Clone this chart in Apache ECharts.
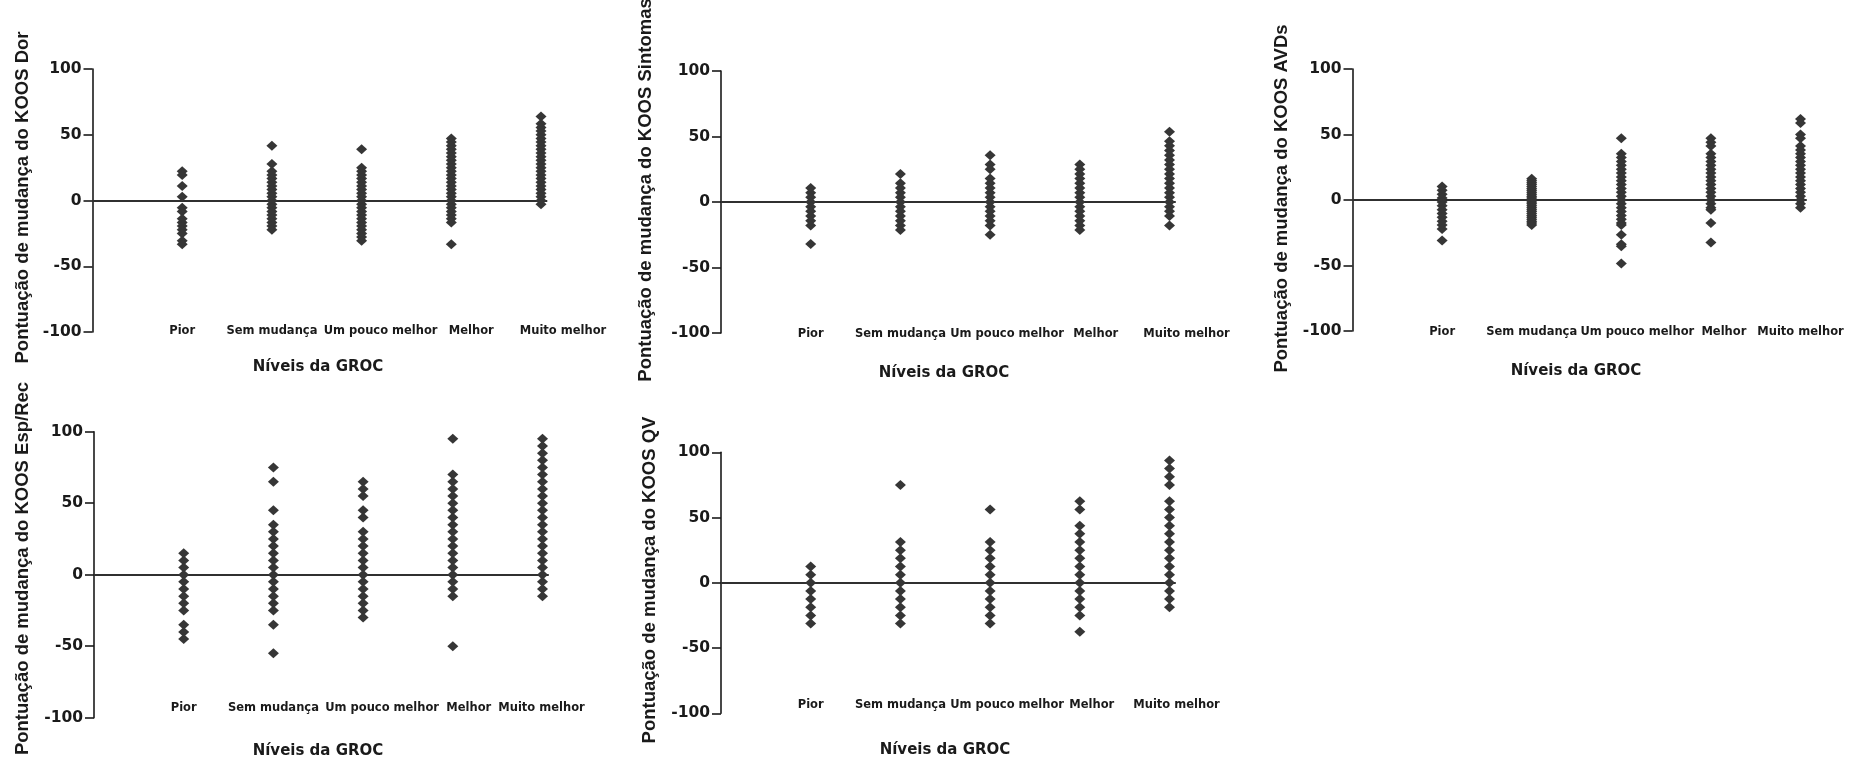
<!DOCTYPE html>
<html><head><meta charset="utf-8">
<script src="https://cdn.jsdelivr.net/npm/echarts@6/dist/echarts.min.js"></script>
<style>html,body{margin:0;padding:0;background:#fff}#c{width:1857px;height:762px}</style>
</head><body><div id="c"></div>
<script>
// ---------- categories & labels ----------
const categories = ['Pior', 'Sem mudança', 'Um pouco melhor', 'Melhor', 'Muito melhor'];
const xTitle = 'Níveis da GROC';
const yTitles = [
  'Pontuação de mudança do KOOS Dor',
  'Pontuação de mudança do KOOS Sintomas',
  'Pontuação de mudança do KOOS AVDs',
  'Pontuação de mudança do KOOS Esp/Rec',
  'Pontuação de mudança do KOOS QV'
];
const yMin = -100, yMax = 100, yStep = 50;

// ---------- KOOS Dor ----------
const dorPior = [22.2, 19.4, 11.1, 2.8, -5.6, -8.3, -13.9, -16.7, -19.4, -22.2, -25.0, -30.6, -33.3];
const dorSem = [41.7, 27.8, 22.2, 19.4, 16.7, 13.9, 11.1, 8.3, 5.6, 2.8, 0, -2.8, -5.6, -8.3, -11.1, -13.9, -16.7, -19.4, -22.2];
const dorPouco = [38.9, 25.0, 22.2, 19.4, 16.7, 13.9, 11.1, 8.3, 5.6, 2.8, 0, -2.8, -5.6, -8.3, -11.1, -13.9, -16.7, -19.4, -22.2, -25.0, -27.8, -30.6];
const dorMelhor = [47.2, 44.4, 41.7, 38.9, 36.1, 33.3, 30.6, 27.8, 25.0, 22.2, 19.4, 16.7, 13.9, 11.1, 8.3, 5.6, 2.8, 0, -2.8, -5.6, -8.3, -11.1, -13.9, -16.7, -33.3];
const dorMuito = [63.9, 58.3, 55.6, 52.8, 50.0, 47.2, 44.4, 41.7, 38.9, 36.1, 33.3, 30.6, 27.8, 25.0, 22.2, 19.4, 16.7, 13.9, 11.1, 8.3, 5.6, 2.8, 0, -2.8];

// ---------- KOOS Sintomas ----------
const sinPior = [10.7, 7.1, 3.6, 0, -3.6, -7.1, -10.7, -14.3, -17.9, -32.1];
const sinSem = [21.4, 14.3, 10.7, 7.1, 3.6, 0, -3.6, -7.1, -10.7, -14.3, -17.9, -21.4];
const sinPouco = [35.7, 28.6, 25.0, 17.9, 14.3, 10.7, 7.1, 3.6, 0, -3.6, -7.1, -10.7, -14.3, -17.9, -25.0];
const sinMelhor = [28.6, 25.0, 21.4, 17.9, 14.3, 10.7, 7.1, 3.6, 0, -3.6, -7.1, -10.7, -14.3, -17.9, -21.4];
const sinMuito = [53.6, 46.4, 42.9, 39.3, 35.7, 32.1, 28.6, 25.0, 21.4, 17.9, 14.3, 10.7, 7.1, 3.6, 0, -3.6, -7.1, -10.7, -17.9];

// ---------- KOOS AVDs ----------
const avdPior = [10.3, 7.4, 4.4, 1.5, -1.5, -4.4, -7.4, -10.3, -13.2, -16.2, -19.1, -22.1, -30.9];
const avdSem = [16.2, 14.7, 13.2, 11.8, 10.3, 8.8, 7.4, 5.9, 4.4, 2.9, 1.5, 0, -1.5, -2.9, -4.4, -5.9, -7.4, -8.8, -10.3, -11.8, -13.2, -14.7, -16.2, -17.6, -19.1];
const avdPouco = [47.1, 35.3, 32.4, 29.4, 26.5, 23.5, 20.6, 17.6, 14.7, 11.8, 8.8, 5.9, 2.9, 0, -2.9, -5.9, -8.8, -11.8, -14.7, -17.6, -19.1, -26.5, -33.8, -35.3, -48.5];
const avdMelhor = [47.1, 44.1, 41.2, 35.3, 32.4, 29.4, 26.5, 23.5, 20.6, 17.6, 14.7, 11.8, 8.8, 5.9, 2.9, 0, -2.9, -5.9, -7.4, -17.6, -32.4];
const avdMuito = [61.8, 58.8, 50.0, 47.1, 41.2, 38.2, 35.3, 32.4, 29.4, 26.5, 23.5, 20.6, 17.6, 14.7, 11.8, 8.8, 5.9, 2.9, 0, -2.9, -5.9];

// ---------- KOOS Esp/Rec ----------
const espPior = [15, 10, 5, 0, -5, -10, -15, -20, -25, -35, -40, -45];
const espSem = [75, 65, 45, 35, 30, 25, 20, 15, 10, 5, 0, -5, -10, -15, -20, -25, -35, -55];
const espPouco = [65, 60, 55, 45, 40, 30, 25, 20, 15, 10, 5, 0, -5, -10, -15, -20, -25, -30];
const espMelhor = [95, 70, 65, 60, 55, 50, 45, 40, 35, 30, 25, 20, 15, 10, 5, 0, -5, -10, -15, -50];
const espMuito = [95, 90, 85, 80, 75, 70, 65, 60, 55, 50, 45, 40, 35, 30, 25, 20, 15, 10, 5, 0, -5, -10, -15];

// ---------- KOOS QV ----------
const qvPior = [12.5, 6.25, 0, -6.25, -12.5, -18.75, -25, -31.25];
const qvSem = [75, 31.25, 25, 18.75, 12.5, 6.25, 0, -6.25, -12.5, -18.75, -25, -31.25];
const qvPouco = [56.25, 31.25, 25, 18.75, 12.5, 6.25, 0, -6.25, -12.5, -18.75, -25, -31.25];
const qvMelhor = [62.5, 56.25, 43.75, 37.5, 31.25, 25, 18.75, 12.5, 6.25, 0, -6.25, -12.5, -18.75, -25, -37.5];
const qvMuito = [93.75, 87.5, 81.25, 75, 62.5, 56.25, 50, 43.75, 37.5, 31.25, 25, 18.75, 12.5, 6.25, 0, -6.25, -12.5, -18.75];

const panelValues = [
  [dorPior, dorSem, dorPouco, dorMelhor, dorMuito],
  [sinPior, sinSem, sinPouco, sinMelhor, sinMuito],
  [avdPior, avdSem, avdPouco, avdMelhor, avdMuito],
  [espPior, espSem, espPouco, espMelhor, espMuito],
  [qvPior, qvSem, qvPouco, qvMelhor, qvMuito]
];

// ---------- layout (pixels) ----------
const layout = [
  {left: 92.5, top: 69,    height: 263, step: 89.7, labelMargin: -1, shifts: [0, 0, 19, 20, 22], yName: [22.5, 197.5], xName: [318, 367]},
  {left: 721,  top: 71,    height: 262, step: 89.7, labelMargin: 1,  shifts: [0, 0, 17, 16, 17], yName: [646, 190],    xName: [944, 373]},
  {left: 1352.5, top: 69,  height: 262, step: 89.6, labelMargin: 1,  shifts: [0, 0, 16, 13, 0],  yName: [1281.5, 198.5], xName: [1576, 371]},
  {left: 94,   top: 431.7, height: 286, step: 89.7, labelMargin: -10, shifts: [0, 0, 19, 16, -1], yName: [22.5, 568.5], xName: [318, 751]},
  {left: 721,  top: 452.3, height: 261, step: 89.7, labelMargin: -8, shifts: [0, 0, 17, 12, 7],  yName: [650, 580],    xName: [945, 750]}
];
const xMax = 5.5;
const zeroLineEnd = 5.07;

const ink = '#1a1a1a';
const dotColor = '#363636';
const grids = [], xAxes = [], yAxes = [], series = [], graphics = [];

layout.forEach((L, p) => {
  grids.push({left: L.left, top: L.top, width: L.step * xMax, height: L.height, containLabel: false});
  const rich = {};
  L.shifts.forEach((s, i) => {
    rich['c' + i] = {
      fontFamily: '"DejaVu Sans", Arial, sans-serif', fontWeight: 'bold', fontSize: 11.5, color: ink,
      padding: s >= 0 ? [0, 0, 0, 2 * s] : [0, -2 * s, 0, 0]
    };
  });
  xAxes.push({
    type: 'value', gridIndex: p, min: 0, max: xMax, interval: 1,
    axisLine: {show: false, onZero: false}, axisTick: {show: false}, splitLine: {show: false},
    axisLabel: {
      show: true, margin: L.labelMargin, verticalAlign: 'middle', hideOverlap: false,
      showMinLabel: true, showMaxLabel: true,
      formatter: v => {
        const i = Math.round(v) - 1;
        return (Math.abs(v - Math.round(v)) < 1e-6 && i >= 0 && i < categories.length) ? '{c' + i + '|' + categories[i] + '}' : '';
      },
      rich: rich
    }
  });
  yAxes.push({
    type: 'value', gridIndex: p, min: yMin, max: yMax, interval: yStep,
    axisLine: {show: true, onZero: false, lineStyle: {color: ink, width: 1.6}},
    axisTick: {show: true, inside: false, length: 9, lineStyle: {color: ink, width: 1.6}},
    splitLine: {show: false},
    axisLabel: {color: ink, fontFamily: '"DejaVu Sans", Arial, sans-serif', fontWeight: 'bold', fontSize: 15.5, margin: 11}
  });
  const data = [];
  panelValues[p].forEach((vals, i) => vals.forEach(v => data.push([i + 1, v])));
  series.push({
    type: 'scatter', xAxisIndex: p, yAxisIndex: p, data: data,
    symbol: 'diamond', symbolSize: [11, 10],
    itemStyle: {color: dotColor, opacity: 1},
    silent: true, z: 3,
    markLine: {
      silent: true, symbol: 'none', label: {show: false}, z: 2,
      lineStyle: {color: '#303030', width: 1.8, type: 'solid'},
      data: [[{coord: [0, 0]}, {coord: [zeroLineEnd, 0]}]]
    }
  });
  graphics.push({
    type: 'text', x: L.yName[0], y: L.yName[1], rotation: Math.PI / 2,
    style: {text: yTitles[p], font: 'bold 18.5px "Liberation Sans", Arial, sans-serif', fill: ink,
            align: 'center', verticalAlign: 'middle', textAlign: 'center', textVerticalAlign: 'middle'}
  });
  graphics.push({
    type: 'text', x: L.xName[0], y: L.xName[1],
    style: {text: xTitle, font: 'bold 15px "DejaVu Sans", Arial, sans-serif', fill: ink,
            align: 'center', verticalAlign: 'middle', textAlign: 'center', textVerticalAlign: 'middle'}
  });
});

const chart = echarts.init(document.getElementById('c'), null, {renderer: 'canvas'});
chart.setOption({
  animation: false,
  backgroundColor: '#ffffff',
  grid: grids, xAxis: xAxes, yAxis: yAxes, series: series,
  graphic: {elements: graphics}
});
</script></body></html>
